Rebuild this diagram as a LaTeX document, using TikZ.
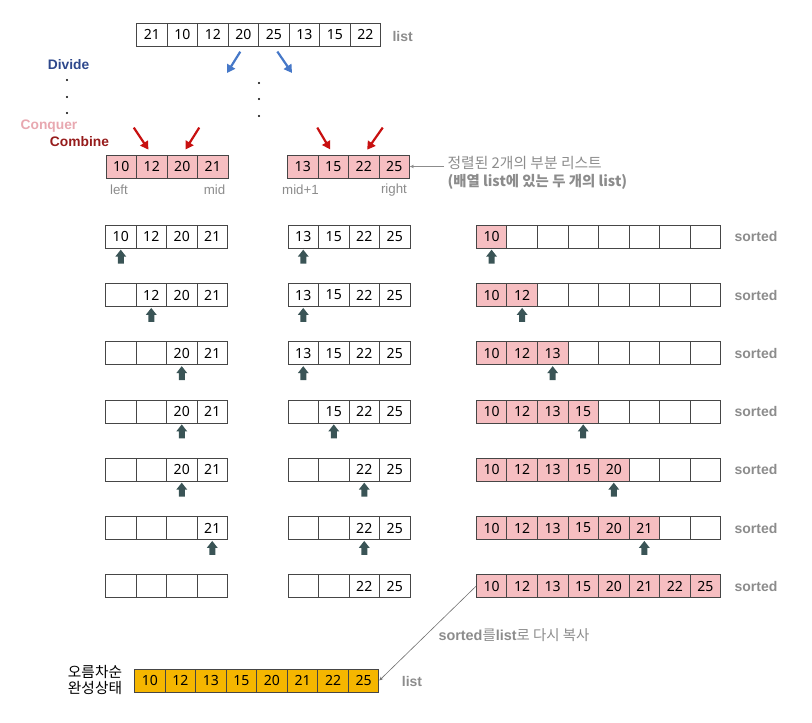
\documentclass[tikz,border=0pt]{standalone}
\usepackage{fontspec}
\setmainfont{Liberation Sans}
\newfontfamily\krfont{Noto Sans CJK KR}
\newfontfamily\numfont{Noto Sans}
\usepackage{tikz}
\usetikzlibrary{arrows.meta,calc,positioning}

\definecolor{cellpink}{RGB}{246,190,193}
\definecolor{cellgold}{RGB}{245,182,0}
\definecolor{cellline}{RGB}{70,70,70}
\definecolor{ptrcol}{RGB}{58,84,86}
\definecolor{labgray}{RGB}{140,140,140}
\definecolor{divblue}{RGB}{46,72,140}
\definecolor{conqpink}{RGB}{232,168,176}
\definecolor{combred}{RGB}{150,28,28}
\definecolor{arrred}{RGB}{200,16,16}
\definecolor{arrblue}{RGB}{70,120,200}

% pointer under a cell
\newcommand{\ptr}[1]{\fill[ptrcol,shift={(#1.south)}] (0,-1) -- (5.5,-8) -- (3,-8) -- (3,-15) -- (-3,-15) -- (-3,-8) -- (-5.5,-8) -- cycle;}

\begin{document}
\begin{tikzpicture}[
  x=1pt,y=1pt,
  cell/.style={draw=cellline,line width=0.8pt,minimum width=30.5pt,minimum height=23pt,inner sep=0pt,font=\numfont\fontsize{14}{16}\selectfont},
  pk/.style={fill=cellpink},
  gd/.style={fill=cellgold},
  tag/.style={font=\bfseries\fontsize{14}{16}\selectfont,text=labgray},
  idx/.style={font=\fontsize{13.3}{15}\selectfont,text=labgray},
  phase/.style={font=\bfseries\fontsize{13.8}{16}\selectfont},
  redarr/.style={-{Triangle[length=8pt,width=9pt]},line width=2.2pt,arrred},
  bluearr/.style={-{Triangle[length=8pt,width=9pt]},line width=2.2pt,arrblue},
  note/.style={anchor=west,text=labgray,font=\krfont\fontsize{14.8}{16}\selectfont},
]
\useasboundingbox (0,0) rectangle (812,723);

% Input list
\foreach \v [count=\i] in {21,10,12,20,25,13,15,22}
  \node[cell] (t\i) at ({136.7+(\i-0.5)*30.5},688.3) {\v};
\node[tag] (tlist) at (402.7,686.3) {list};

% Phases
\node[phase,text=divblue] (divide) at (68.5,658) {Divide};
\fill (67,643) circle (1.2) (67,626) circle (1.2) (67,610) circle (1.2);
\fill (259,640) circle (1.2) (259,624) circle (1.2) (259,607) circle (1.2);
\node[phase,text=conqpink] (conquer) at (49,597) {Conquer};
\node[phase,text=combred] (combine) at (79.5,581) {Combine};

\coordinate (dl) at (227,650);
\coordinate (dr) at (292,650);
\draw[bluearr,shorten <=6pt] (t4.south) -- (dl);
\draw[bluearr,shorten <=6pt] (t5.south) -- (dr);

% Two sorted halves
\foreach \v [count=\i] in {10,12,20,21}
  \node[cell,pk] (a\i) at ({106+(\i-0.5)*30.5},556.5) {\v};
\foreach \v [count=\i] in {13,15,22,25}
  \node[cell,pk] (b\i) at ({287.5+(\i-0.5)*30.5},556.5) {\v};

\node[idx] (left) at (119,533) {left};
\node[idx] (mid) at (214.5,533) {mid};
\node[idx] (midp) at (300.5,533) {mid+1};
\node[idx] (right) at (394,533) {right};

\coordinate (ra1) at ($(a2.north)+(-18,27)$);
\coordinate (ra2) at ($(a3.north)+(17,27)$);
\coordinate (ra3) at ($(b2.north)+(-16,27)$);
\coordinate (ra4) at ($(b3.north)+(19,27)$);
\draw[redarr,shorten >=6pt] (ra1) -- (a2.north);
\draw[redarr,shorten >=6pt] (ra2) -- (a3.north);
\draw[redarr,shorten >=6pt] (ra3) -- (b2.north);
\draw[redarr,shorten >=6pt] (ra4) -- (b3.north);

\node[note] (note1) at (444,560) {정렬된 2개의 부분 리스트};
\node[note,font=\krfont\bfseries\fontsize{14.4}{16}\selectfont] (note2) at (444,541) {(배열 list에 있는 두 개의 list)};
\draw[-{Stealth[length=4pt,width=3.5pt]},labgray,line width=0.6pt] (note1.west |- b4.east) -- (b4.east);

% Merge steps
\foreach \k/\lp/\mp [count=\r] in {1/1/1,2/2/1,3/3/1,4/3/2,5/3/3,6/4/3,8/5/3} {
  \pgfmathsetmacro\ry{486.2-(\r-1)*58.25}
  \foreach \v [count=\i] in {10,12,20,21} {
    \ifnum\i<\lp
      \node[cell] (l\r-\i) at ({105.5+(\i-0.5)*30.5},\ry) {};
    \else
      \node[cell] (l\r-\i) at ({105.5+(\i-0.5)*30.5},\ry) {\v};
    \fi
  }
  \foreach \v [count=\i] in {13,15,22,25} {
    \ifnum\i<\mp
      \node[cell] (m\r-\i) at ({288+(\i-0.5)*30.5},\ry) {};
    \else
      \node[cell] (m\r-\i) at ({288+(\i-0.5)*30.5},\ry) {\v};
    \fi
  }
  \foreach \v [count=\i] in {10,12,13,15,20,21,22,25} {
    \ifnum\i>\k
      \node[cell] (s\r-\i) at ({476.3+(\i-0.5)*30.55},\ry) {};
    \else
      \node[cell,pk] (s\r-\i) at ({476.3+(\i-0.5)*30.55},\ry) {\v};
    \fi
  }
  \node[tag] (st\r) at (756,\ry) {sorted};
  \ifnum\r<7
    \ptr{l\r-\lp}
    \ptr{m\r-\mp}
    \ptr{s\r-\r}
  \fi
}

% Copy back
\node[anchor=west,text=labgray,font=\fontsize{14.4}{16}\selectfont] (copynote) at (435,88)
  {\textbf{sorted}{\krfont 를}\textbf{list}{\krfont 로 다시 복사}};

\foreach \v [count=\i] in {10,12,13,15,20,21,22,25}
  \node[cell,gd] (f\i) at ({134.5+(\i-0.5)*30.55},42.5) {\v};
\node[tag] (flist) at (412,42) {list};
\node[font=\krfont\fontsize{14.7}{16}\selectfont,align=center] (done) at (95,43) {오름차순\\완성상태};

\draw[-{Stealth[length=4pt,width=3.5pt]},labgray!80!black,line width=0.6pt] (s7-1.west) -- (f8.east);

\end{tikzpicture}
\end{document}
